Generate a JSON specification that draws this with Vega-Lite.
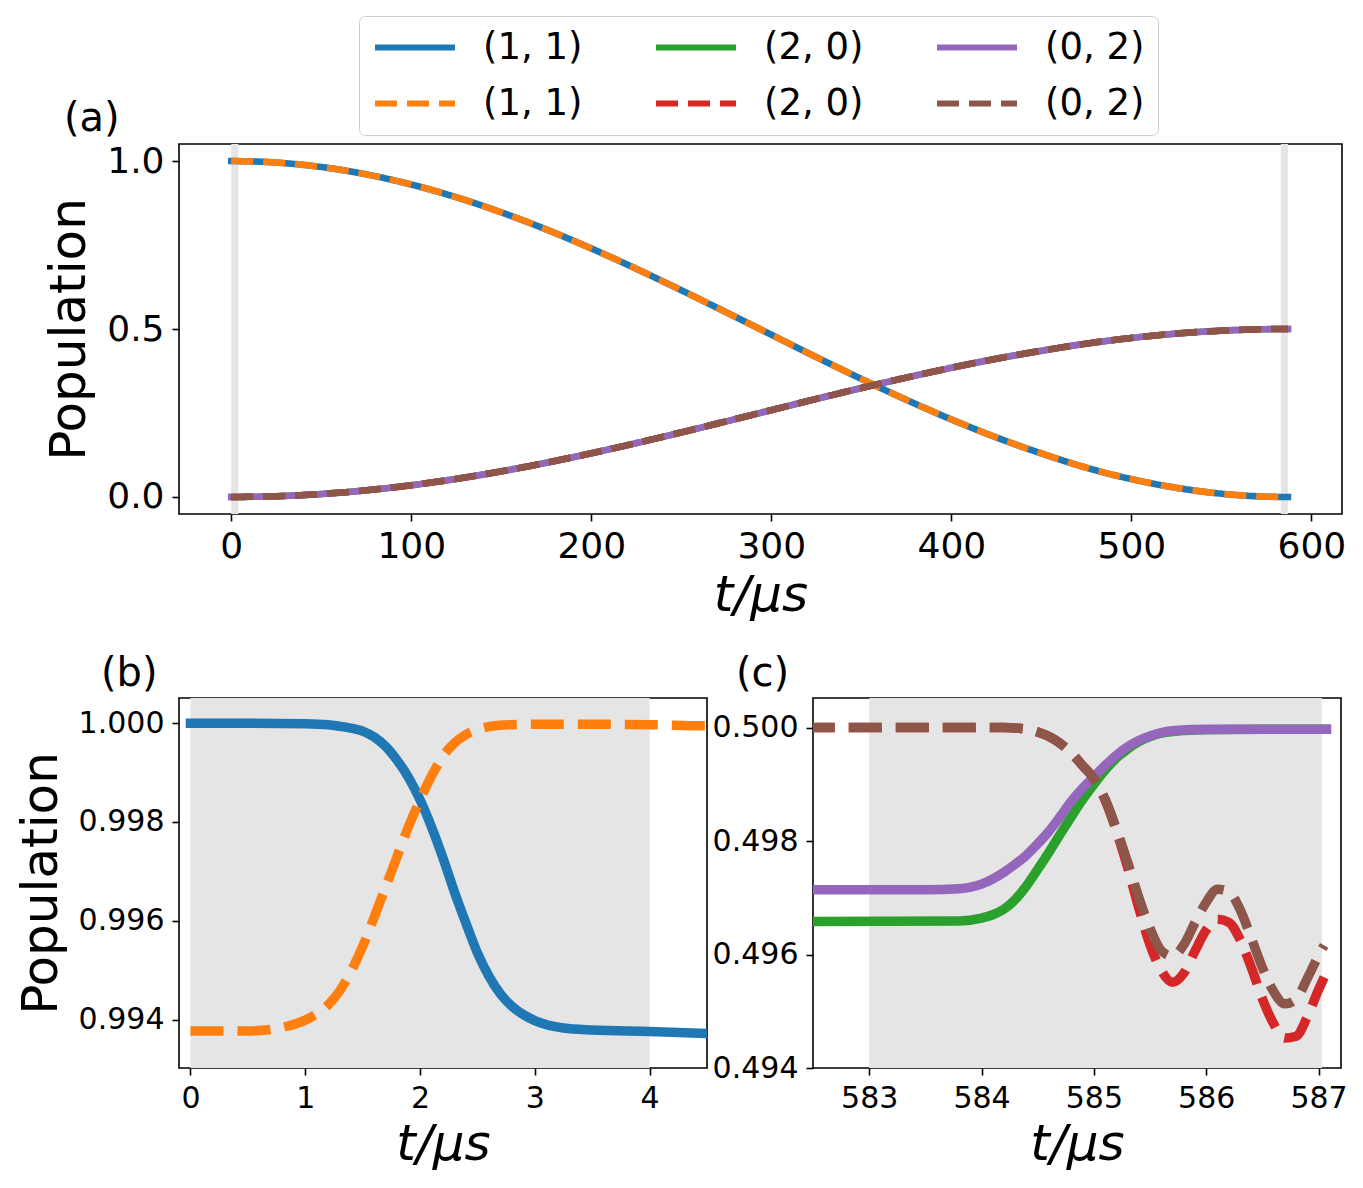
{
  "$schema": "https://vega.github.io/schema/vega-lite/v6.json",
  "background": "#ffffff",
  "padding": {"left": 15, "top": 15, "right": 10, "bottom": 10},
  "config": {
    "font": "DejaVu Sans",
    "view": {"stroke": "#000000", "strokeWidth": 1.6},
    "axis": {
      "domain": false, "grid": false,
      "tickColor": "#000000", "tickSize": 7, "tickWidth": 1.6,
      "labelColor": "#000000", "titleColor": "#000000",
      "labelFont": "DejaVu Sans", "titleFont": "DejaVu Sans",
      "titleFontWeight": "normal", "labelPadding": 8,
      "labelFlush": false, "labelOverlap": false
    },
    "title": {"font": "DejaVu Sans", "fontSize": 40, "fontWeight": "normal", "color": "#000000", "anchor": "start", "frame": "group", "offset": 4},
    "legend": {
      "orient": "none", "legendX": 180, "legendY": -128,
      "columns": 3, "direction": "horizontal",
      "symbolType": "stroke", "symbolSize": 6400, "symbolStrokeWidth": 6,
      "labelFont": "DejaVu Sans", "labelFontSize": 37, "labelColor": "#000000",
      "labelOffset": 25, "columnPadding": 70, "rowPadding": 18, "padding": 13, "clipHeight": 37,
      "strokeColor": "#cccccc", "fillColor": "#ffffff", "cornerRadius": 6, "labelLimit": 300
    }
  },
  "datasets": {
    "bands": [
      {"panel": "a", "t0": 0, "t1": 4},
      {"panel": "a", "t0": 583, "t1": 587},
      {"panel": "b", "t0": 0, "t1": 4},
      {"panel": "c", "t0": 583, "t1": 587.03}
    ],
    "full": [
      {"t":0,"s":"(1, 1)|solid","p":1.0},{"t":25,"s":"(1, 1)|solid","p":0.9955},{"t":50,"s":"(1, 1)|solid","p":0.9822},{"t":75,"s":"(1, 1)|solid","p":0.9603},{"t":100,"s":"(1, 1)|solid","p":0.9301},{"t":125,"s":"(1, 1)|solid","p":0.8922},{"t":150,"s":"(1, 1)|solid","p":0.8473},{"t":175,"s":"(1, 1)|solid","p":0.7962},{"t":200,"s":"(1, 1)|solid","p":0.7398},{"t":225,"s":"(1, 1)|solid","p":0.6792},{"t":250,"s":"(1, 1)|solid","p":0.6154},{"t":275,"s":"(1, 1)|solid","p":0.5496},{"t":300,"s":"(1, 1)|solid","p":0.4830},{"t":325,"s":"(1, 1)|solid","p":0.4163},{"t":350,"s":"(1, 1)|solid","p":0.3515},{"t":375,"s":"(1, 1)|solid","p":0.2892},{"t":400,"s":"(1, 1)|solid","p":0.2308},{"t":425,"s":"(1, 1)|solid","p":0.1773},{"t":450,"s":"(1, 1)|solid","p":0.1296},{"t":475,"s":"(1, 1)|solid","p":0.0872},{"t":500,"s":"(1, 1)|solid","p":0.0532},{"t":525,"s":"(1, 1)|solid","p":0.0273},{"t":550,"s":"(1, 1)|solid","p":0.0098},{"t":575,"s":"(1, 1)|solid","p":0.0010},{"t":587,"s":"(1, 1)|solid","p":0.0},
      {"t":0,"s":"(2, 0)|solid","p":0.0},{"t":25,"s":"(2, 0)|solid","p":0.0023},{"t":50,"s":"(2, 0)|solid","p":0.0089},{"t":75,"s":"(2, 0)|solid","p":0.0199},{"t":100,"s":"(2, 0)|solid","p":0.0350},{"t":125,"s":"(2, 0)|solid","p":0.0539},{"t":150,"s":"(2, 0)|solid","p":0.0764},{"t":175,"s":"(2, 0)|solid","p":0.1019},{"t":200,"s":"(2, 0)|solid","p":0.1301},{"t":225,"s":"(2, 0)|solid","p":0.1604},{"t":250,"s":"(2, 0)|solid","p":0.1923},{"t":275,"s":"(2, 0)|solid","p":0.2252},{"t":300,"s":"(2, 0)|solid","p":0.2585},{"t":325,"s":"(2, 0)|solid","p":0.2919},{"t":350,"s":"(2, 0)|solid","p":0.3243},{"t":375,"s":"(2, 0)|solid","p":0.3554},{"t":400,"s":"(2, 0)|solid","p":0.3846},{"t":425,"s":"(2, 0)|solid","p":0.4114},{"t":450,"s":"(2, 0)|solid","p":0.4352},{"t":475,"s":"(2, 0)|solid","p":0.4564},{"t":500,"s":"(2, 0)|solid","p":0.4734},{"t":525,"s":"(2, 0)|solid","p":0.4864},{"t":550,"s":"(2, 0)|solid","p":0.4951},{"t":575,"s":"(2, 0)|solid","p":0.4995},{"t":587,"s":"(2, 0)|solid","p":0.5},
      {"t":0,"s":"(0, 2)|solid","p":0.0},{"t":25,"s":"(0, 2)|solid","p":0.0023},{"t":50,"s":"(0, 2)|solid","p":0.0089},{"t":75,"s":"(0, 2)|solid","p":0.0199},{"t":100,"s":"(0, 2)|solid","p":0.0350},{"t":125,"s":"(0, 2)|solid","p":0.0539},{"t":150,"s":"(0, 2)|solid","p":0.0764},{"t":175,"s":"(0, 2)|solid","p":0.1019},{"t":200,"s":"(0, 2)|solid","p":0.1301},{"t":225,"s":"(0, 2)|solid","p":0.1604},{"t":250,"s":"(0, 2)|solid","p":0.1923},{"t":275,"s":"(0, 2)|solid","p":0.2252},{"t":300,"s":"(0, 2)|solid","p":0.2585},{"t":325,"s":"(0, 2)|solid","p":0.2919},{"t":350,"s":"(0, 2)|solid","p":0.3243},{"t":375,"s":"(0, 2)|solid","p":0.3554},{"t":400,"s":"(0, 2)|solid","p":0.3846},{"t":425,"s":"(0, 2)|solid","p":0.4114},{"t":450,"s":"(0, 2)|solid","p":0.4352},{"t":475,"s":"(0, 2)|solid","p":0.4564},{"t":500,"s":"(0, 2)|solid","p":0.4734},{"t":525,"s":"(0, 2)|solid","p":0.4864},{"t":550,"s":"(0, 2)|solid","p":0.4951},{"t":575,"s":"(0, 2)|solid","p":0.4995},{"t":587,"s":"(0, 2)|solid","p":0.5},
      {"t":0,"s":"(1, 1)|dashed","p":1.0},{"t":25,"s":"(1, 1)|dashed","p":0.9955},{"t":50,"s":"(1, 1)|dashed","p":0.9822},{"t":75,"s":"(1, 1)|dashed","p":0.9603},{"t":100,"s":"(1, 1)|dashed","p":0.9301},{"t":125,"s":"(1, 1)|dashed","p":0.8922},{"t":150,"s":"(1, 1)|dashed","p":0.8473},{"t":175,"s":"(1, 1)|dashed","p":0.7962},{"t":200,"s":"(1, 1)|dashed","p":0.7398},{"t":225,"s":"(1, 1)|dashed","p":0.6792},{"t":250,"s":"(1, 1)|dashed","p":0.6154},{"t":275,"s":"(1, 1)|dashed","p":0.5496},{"t":300,"s":"(1, 1)|dashed","p":0.4830},{"t":325,"s":"(1, 1)|dashed","p":0.4163},{"t":350,"s":"(1, 1)|dashed","p":0.3515},{"t":375,"s":"(1, 1)|dashed","p":0.2892},{"t":400,"s":"(1, 1)|dashed","p":0.2308},{"t":425,"s":"(1, 1)|dashed","p":0.1773},{"t":450,"s":"(1, 1)|dashed","p":0.1296},{"t":475,"s":"(1, 1)|dashed","p":0.0872},{"t":500,"s":"(1, 1)|dashed","p":0.0532},{"t":525,"s":"(1, 1)|dashed","p":0.0273},{"t":550,"s":"(1, 1)|dashed","p":0.0098},{"t":575,"s":"(1, 1)|dashed","p":0.0010},{"t":587,"s":"(1, 1)|dashed","p":0.0},
      {"t":0,"s":"(2, 0)|dashed","p":0.0},{"t":25,"s":"(2, 0)|dashed","p":0.0023},{"t":50,"s":"(2, 0)|dashed","p":0.0089},{"t":75,"s":"(2, 0)|dashed","p":0.0199},{"t":100,"s":"(2, 0)|dashed","p":0.0350},{"t":125,"s":"(2, 0)|dashed","p":0.0539},{"t":150,"s":"(2, 0)|dashed","p":0.0764},{"t":175,"s":"(2, 0)|dashed","p":0.1019},{"t":200,"s":"(2, 0)|dashed","p":0.1301},{"t":225,"s":"(2, 0)|dashed","p":0.1604},{"t":250,"s":"(2, 0)|dashed","p":0.1923},{"t":275,"s":"(2, 0)|dashed","p":0.2252},{"t":300,"s":"(2, 0)|dashed","p":0.2585},{"t":325,"s":"(2, 0)|dashed","p":0.2919},{"t":350,"s":"(2, 0)|dashed","p":0.3243},{"t":375,"s":"(2, 0)|dashed","p":0.3554},{"t":400,"s":"(2, 0)|dashed","p":0.3846},{"t":425,"s":"(2, 0)|dashed","p":0.4114},{"t":450,"s":"(2, 0)|dashed","p":0.4352},{"t":475,"s":"(2, 0)|dashed","p":0.4564},{"t":500,"s":"(2, 0)|dashed","p":0.4734},{"t":525,"s":"(2, 0)|dashed","p":0.4864},{"t":550,"s":"(2, 0)|dashed","p":0.4951},{"t":575,"s":"(2, 0)|dashed","p":0.4995},{"t":587,"s":"(2, 0)|dashed","p":0.5},
      {"t":0,"s":"(0, 2)|dashed","p":0.0},{"t":25,"s":"(0, 2)|dashed","p":0.0023},{"t":50,"s":"(0, 2)|dashed","p":0.0089},{"t":75,"s":"(0, 2)|dashed","p":0.0199},{"t":100,"s":"(0, 2)|dashed","p":0.0350},{"t":125,"s":"(0, 2)|dashed","p":0.0539},{"t":150,"s":"(0, 2)|dashed","p":0.0764},{"t":175,"s":"(0, 2)|dashed","p":0.1019},{"t":200,"s":"(0, 2)|dashed","p":0.1301},{"t":225,"s":"(0, 2)|dashed","p":0.1604},{"t":250,"s":"(0, 2)|dashed","p":0.1923},{"t":275,"s":"(0, 2)|dashed","p":0.2252},{"t":300,"s":"(0, 2)|dashed","p":0.2585},{"t":325,"s":"(0, 2)|dashed","p":0.2919},{"t":350,"s":"(0, 2)|dashed","p":0.3243},{"t":375,"s":"(0, 2)|dashed","p":0.3554},{"t":400,"s":"(0, 2)|dashed","p":0.3846},{"t":425,"s":"(0, 2)|dashed","p":0.4114},{"t":450,"s":"(0, 2)|dashed","p":0.4352},{"t":475,"s":"(0, 2)|dashed","p":0.4564},{"t":500,"s":"(0, 2)|dashed","p":0.4734},{"t":525,"s":"(0, 2)|dashed","p":0.4864},{"t":550,"s":"(0, 2)|dashed","p":0.4951},{"t":575,"s":"(0, 2)|dashed","p":0.4995},{"t":587,"s":"(0, 2)|dashed","p":0.5}
    ],
    "start": [
      {"t":0,"s":"(1, 1)|solid","p":1.0},{"t":0.5,"s":"(1, 1)|solid","p":1.0},{"t":1.0,"s":"(1, 1)|solid","p":0.99999},{"t":1.2,"s":"(1, 1)|solid","p":0.99997},{"t":1.35,"s":"(1, 1)|solid","p":0.99992},{"t":1.5,"s":"(1, 1)|solid","p":0.99984},{"t":1.6,"s":"(1, 1)|solid","p":0.99972},{"t":1.7,"s":"(1, 1)|solid","p":0.99953},{"t":1.8,"s":"(1, 1)|solid","p":0.99925},{"t":1.9,"s":"(1, 1)|solid","p":0.99890},{"t":2.0,"s":"(1, 1)|solid","p":0.99845},{"t":2.1,"s":"(1, 1)|solid","p":0.99790},{"t":2.2,"s":"(1, 1)|solid","p":0.99727},{"t":2.3,"s":"(1, 1)|solid","p":0.99658},{"t":2.4,"s":"(1, 1)|solid","p":0.99595},{"t":2.5,"s":"(1, 1)|solid","p":0.99535},{"t":2.6,"s":"(1, 1)|solid","p":0.99488},{"t":2.7,"s":"(1, 1)|solid","p":0.99452},{"t":2.8,"s":"(1, 1)|solid","p":0.99427},{"t":2.9,"s":"(1, 1)|solid","p":0.99410},{"t":3.0,"s":"(1, 1)|solid","p":0.99398},{"t":3.25,"s":"(1, 1)|solid","p":0.99383},{"t":3.5,"s":"(1, 1)|solid","p":0.99379},{"t":4.0,"s":"(1, 1)|solid","p":0.99376},{"t":4.5,"s":"(1, 1)|solid","p":0.99372},{"t":4.6,"s":"(1, 1)|solid","p":0.99371},
      {"t":0,"s":"(1, 1)|dashed","p":0.99377},{"t":0.5,"s":"(1, 1)|dashed","p":0.99377},{"t":0.7,"s":"(1, 1)|dashed","p":0.99380},{"t":0.85,"s":"(1, 1)|dashed","p":0.99387},{"t":1.0,"s":"(1, 1)|dashed","p":0.99399},{"t":1.1,"s":"(1, 1)|dashed","p":0.99412},{"t":1.2,"s":"(1, 1)|dashed","p":0.99430},{"t":1.3,"s":"(1, 1)|dashed","p":0.99458},{"t":1.4,"s":"(1, 1)|dashed","p":0.99498},{"t":1.5,"s":"(1, 1)|dashed","p":0.99548},{"t":1.6,"s":"(1, 1)|dashed","p":0.99607},{"t":1.7,"s":"(1, 1)|dashed","p":0.99668},{"t":1.8,"s":"(1, 1)|dashed","p":0.99730},{"t":1.9,"s":"(1, 1)|dashed","p":0.99791},{"t":2.0,"s":"(1, 1)|dashed","p":0.99845},{"t":2.1,"s":"(1, 1)|dashed","p":0.99893},{"t":2.2,"s":"(1, 1)|dashed","p":0.99933},{"t":2.3,"s":"(1, 1)|dashed","p":0.99960},{"t":2.4,"s":"(1, 1)|dashed","p":0.99977},{"t":2.5,"s":"(1, 1)|dashed","p":0.99987},{"t":2.6,"s":"(1, 1)|dashed","p":0.99993},{"t":2.8,"s":"(1, 1)|dashed","p":0.99997},{"t":3.0,"s":"(1, 1)|dashed","p":0.99998},{"t":3.5,"s":"(1, 1)|dashed","p":0.99998},{"t":4.0,"s":"(1, 1)|dashed","p":0.99997},{"t":4.5,"s":"(1, 1)|dashed","p":0.99995},{"t":4.6,"s":"(1, 1)|dashed","p":0.99995}
    ],
    "end": [
      {"t":582.4,"s":"(2, 0)|solid","p":0.49658},{"t":583.8,"s":"(2, 0)|solid","p":0.49659},{"t":584.0,"s":"(2, 0)|solid","p":0.49664},{"t":584.1,"s":"(2, 0)|solid","p":0.49670},{"t":584.2,"s":"(2, 0)|solid","p":0.49680},{"t":584.3,"s":"(2, 0)|solid","p":0.49697},{"t":584.4,"s":"(2, 0)|solid","p":0.49721},{"t":584.5,"s":"(2, 0)|solid","p":0.49750},{"t":584.6,"s":"(2, 0)|solid","p":0.49780},{"t":584.7,"s":"(2, 0)|solid","p":0.49812},{"t":584.8,"s":"(2, 0)|solid","p":0.49843},{"t":584.9,"s":"(2, 0)|solid","p":0.49873},{"t":585.0,"s":"(2, 0)|solid","p":0.49900},{"t":585.1,"s":"(2, 0)|solid","p":0.49925},{"t":585.2,"s":"(2, 0)|solid","p":0.49946},{"t":585.3,"s":"(2, 0)|solid","p":0.49962},{"t":585.4,"s":"(2, 0)|solid","p":0.49975},{"t":585.5,"s":"(2, 0)|solid","p":0.49984},{"t":585.6,"s":"(2, 0)|solid","p":0.49990},{"t":585.75,"s":"(2, 0)|solid","p":0.49994},{"t":586.0,"s":"(2, 0)|solid","p":0.49996},{"t":586.5,"s":"(2, 0)|solid","p":0.49997},{"t":587.07,"s":"(2, 0)|solid","p":0.49997},
      {"t":582.4,"s":"(0, 2)|solid","p":0.49714},{"t":583.5,"s":"(0, 2)|solid","p":0.49714},{"t":583.8,"s":"(0, 2)|solid","p":0.49716},{"t":584.0,"s":"(0, 2)|solid","p":0.49724},{"t":584.1,"s":"(0, 2)|solid","p":0.49733},{"t":584.2,"s":"(0, 2)|solid","p":0.49745},{"t":584.3,"s":"(0, 2)|solid","p":0.49759},{"t":584.4,"s":"(0, 2)|solid","p":0.49775},{"t":584.5,"s":"(0, 2)|solid","p":0.49795},{"t":584.6,"s":"(0, 2)|solid","p":0.49817},{"t":584.7,"s":"(0, 2)|solid","p":0.49843},{"t":584.8,"s":"(0, 2)|solid","p":0.49870},{"t":584.9,"s":"(0, 2)|solid","p":0.49893},{"t":585.0,"s":"(0, 2)|solid","p":0.49913},{"t":585.1,"s":"(0, 2)|solid","p":0.49933},{"t":585.2,"s":"(0, 2)|solid","p":0.49951},{"t":585.3,"s":"(0, 2)|solid","p":0.49966},{"t":585.4,"s":"(0, 2)|solid","p":0.49977},{"t":585.5,"s":"(0, 2)|solid","p":0.49985},{"t":585.6,"s":"(0, 2)|solid","p":0.49991},{"t":585.75,"s":"(0, 2)|solid","p":0.49995},{"t":586.0,"s":"(0, 2)|solid","p":0.49997},{"t":586.5,"s":"(0, 2)|solid","p":0.49997},{"t":587.07,"s":"(0, 2)|solid","p":0.49997},
      {"t":582.4,"s":"(2, 0)|dashed","p":0.5},{"t":584.2,"s":"(2, 0)|dashed","p":0.5},{"t":584.4,"s":"(2, 0)|dashed","p":0.49997},{"t":584.5,"s":"(2, 0)|dashed","p":0.49992},{"t":584.6,"s":"(2, 0)|dashed","p":0.49984},{"t":584.7,"s":"(2, 0)|dashed","p":0.49972},{"t":584.8,"s":"(2, 0)|dashed","p":0.49955},{"t":584.9,"s":"(2, 0)|dashed","p":0.49933},{"t":585.0,"s":"(2, 0)|dashed","p":0.49910},{"t":585.1,"s":"(2, 0)|dashed","p":0.49872},{"t":585.2,"s":"(2, 0)|dashed","p":0.49818},{"t":585.3,"s":"(2, 0)|dashed","p":0.49754},{"t":585.4,"s":"(2, 0)|dashed","p":0.49682},{"t":585.5,"s":"(2, 0)|dashed","p":0.49617},{"t":585.6,"s":"(2, 0)|dashed","p":0.49572},{"t":585.7,"s":"(2, 0)|dashed","p":0.49551},{"t":585.8,"s":"(2, 0)|dashed","p":0.49567},{"t":585.9,"s":"(2, 0)|dashed","p":0.49606},{"t":586.0,"s":"(2, 0)|dashed","p":0.49643},{"t":586.1,"s":"(2, 0)|dashed","p":0.49662},{"t":586.2,"s":"(2, 0)|dashed","p":0.49657},{"t":586.3,"s":"(2, 0)|dashed","p":0.49627},{"t":586.4,"s":"(2, 0)|dashed","p":0.49578},{"t":586.5,"s":"(2, 0)|dashed","p":0.49522},{"t":586.6,"s":"(2, 0)|dashed","p":0.49478},{"t":586.7,"s":"(2, 0)|dashed","p":0.49453},{"t":586.8,"s":"(2, 0)|dashed","p":0.49456},{"t":586.9,"s":"(2, 0)|dashed","p":0.49490},{"t":587.0,"s":"(2, 0)|dashed","p":0.49538},{"t":587.05,"s":"(2, 0)|dashed","p":0.49560},
      {"t":582.4,"s":"(0, 2)|dashed","p":0.5},{"t":584.2,"s":"(0, 2)|dashed","p":0.5},{"t":584.4,"s":"(0, 2)|dashed","p":0.49997},{"t":584.5,"s":"(0, 2)|dashed","p":0.49992},{"t":584.6,"s":"(0, 2)|dashed","p":0.49984},{"t":584.7,"s":"(0, 2)|dashed","p":0.49972},{"t":584.8,"s":"(0, 2)|dashed","p":0.49955},{"t":584.9,"s":"(0, 2)|dashed","p":0.49933},{"t":585.0,"s":"(0, 2)|dashed","p":0.49910},{"t":585.1,"s":"(0, 2)|dashed","p":0.49874},{"t":585.2,"s":"(0, 2)|dashed","p":0.49822},{"t":585.3,"s":"(0, 2)|dashed","p":0.49763},{"t":585.4,"s":"(0, 2)|dashed","p":0.49701},{"t":585.5,"s":"(0, 2)|dashed","p":0.49646},{"t":585.6,"s":"(0, 2)|dashed","p":0.49607},{"t":585.7,"s":"(0, 2)|dashed","p":0.49597},{"t":585.8,"s":"(0, 2)|dashed","p":0.49617},{"t":585.9,"s":"(0, 2)|dashed","p":0.49656},{"t":586.0,"s":"(0, 2)|dashed","p":0.49692},{"t":586.1,"s":"(0, 2)|dashed","p":0.49715},{"t":586.2,"s":"(0, 2)|dashed","p":0.49711},{"t":586.3,"s":"(0, 2)|dashed","p":0.49680},{"t":586.4,"s":"(0, 2)|dashed","p":0.49630},{"t":586.5,"s":"(0, 2)|dashed","p":0.49577},{"t":586.6,"s":"(0, 2)|dashed","p":0.49535},{"t":586.7,"s":"(0, 2)|dashed","p":0.49513},{"t":586.8,"s":"(0, 2)|dashed","p":0.49521},{"t":586.9,"s":"(0, 2)|dashed","p":0.49558},{"t":587.0,"s":"(0, 2)|dashed","p":0.49598},{"t":587.05,"s":"(0, 2)|dashed","p":0.49616}
    ]
  },
  "bounds": "flush",
  "spacing": 184,
  "vconcat": [
    {
      "width": 1163,
      "height": 370,
      "title": {"text": "(a)", "dx": -115},
      "layer": [
        {
          "data": {"name": "bands"},
          "transform": [{"filter": "datum.panel == 'a'"}],
          "mark": {"type": "rect", "color": "#e5e5e5"},
          "encoding": {
            "x": {"field": "t0", "type": "quantitative", "scale": {"domain": [-29, 617], "nice": false, "zero": false},
                  "axis": {"title": "t/μs", "values": [0, 100, 200, 300, 400, 500, 600], "format": "d", "labelFontSize": 36, "titleFontSize": 50, "titleFontStyle": "italic", "titlePadding": 6}},
            "x2": {"field": "t1"}
          }
        },
        {
          "data": {"name": "full"},
          "transform": [{"filter": "indexof(datum.s, 'solid') >= 0"}],
          "mark": {"type": "line", "strokeWidth": 6.5, "strokeCap": "square", "strokeJoin": "round", "interpolate": "monotone"},
          "encoding": {
            "x": {"field": "t", "type": "quantitative", "scale": {"domain": [-29, 617], "nice": false, "zero": false},
                  "axis": {"title": "t/μs", "values": [0, 100, 200, 300, 400, 500, 600], "format": "d", "labelFontSize": 36, "titleFontSize": 50, "titleFontStyle": "italic", "titlePadding": 6}},
            "y": {"field": "p", "type": "quantitative", "scale": {"domain": [-0.0506, 1.0506], "nice": false, "zero": false},
                  "axis": {"title": "Population", "values": [0, 0.5, 1], "format": ".1f", "labelFontSize": 36, "titleFontSize": 50, "titlePadding": 12}},
            "color": {"field": "s", "type": "nominal",
                      "scale": {"domain": ["(1, 1)|solid", "(2, 0)|solid", "(0, 2)|solid", "(1, 1)|dashed", "(2, 0)|dashed", "(0, 2)|dashed"],
                                "range": ["#1f77b4", "#2ca02c", "#9467bd", "#ff7f0e", "#d62728", "#8c564b"]},
                      "legend": {"title": null, "labelExpr": "split(datum.label, '|')[0]"}},
            "strokeDash": {"field": "s", "type": "nominal",
                      "scale": {"domain": ["(1, 1)|solid", "(2, 0)|solid", "(0, 2)|solid", "(1, 1)|dashed", "(2, 0)|dashed", "(0, 2)|dashed"],
                                "range": [[1, 0], [1, 0], [1, 0], [22, 10], [22, 10], [22, 10]]},
                      "legend": {"title": null, "labelExpr": "split(datum.label, '|')[0]"}}
          }
        },
        {
          "data": {"name": "full"},
          "transform": [{"filter": "indexof(datum.s, 'dashed') >= 0"}],
          "mark": {"type": "line", "strokeWidth": 6.5, "strokeCap": "butt", "strokeJoin": "round", "interpolate": "monotone"},
          "encoding": {
            "x": {"field": "t", "type": "quantitative", "scale": {"domain": [-29, 617], "nice": false, "zero": false},
                  "axis": {"title": "t/μs", "values": [0, 100, 200, 300, 400, 500, 600], "format": "d", "labelFontSize": 36, "titleFontSize": 50, "titleFontStyle": "italic", "titlePadding": 6}},
            "y": {"field": "p", "type": "quantitative", "scale": {"domain": [-0.0506, 1.0506], "nice": false, "zero": false},
                  "axis": {"title": "Population", "values": [0, 0.5, 1], "format": ".1f", "labelFontSize": 36, "titleFontSize": 50, "titlePadding": 12}},
            "color": {"field": "s", "type": "nominal",
                      "scale": {"domain": ["(1, 1)|solid", "(2, 0)|solid", "(0, 2)|solid", "(1, 1)|dashed", "(2, 0)|dashed", "(0, 2)|dashed"],
                                "range": ["#1f77b4", "#2ca02c", "#9467bd", "#ff7f0e", "#d62728", "#8c564b"]},
                      "legend": {"title": null, "labelExpr": "split(datum.label, '|')[0]"}},
            "strokeDash": {"field": "s", "type": "nominal",
                      "scale": {"domain": ["(1, 1)|solid", "(2, 0)|solid", "(0, 2)|solid", "(1, 1)|dashed", "(2, 0)|dashed", "(0, 2)|dashed"],
                                "range": [[1, 0], [1, 0], [1, 0], [22, 10], [22, 10], [22, 10]]},
                      "legend": {"title": null, "labelExpr": "split(datum.label, '|')[0]"}}
          }
        }
      ]
    },
    {
      "bounds": "flush",
      "spacing": 106,
      "hconcat": [
        {
          "width": 528,
          "height": 370,
          "title": {"text": "(b)", "dx": -78},
          "layer": [
            {
              "data": {"name": "bands"},
              "transform": [{"filter": "datum.panel == 'b'"}],
              "mark": {"type": "rect", "color": "#e5e5e5"},
              "encoding": {
                "x": {"field": "t0", "type": "quantitative", "scale": {"domain": [-0.1, 4.5], "nice": false, "zero": false},
                      "axis": {"title": "t/μs", "values": [0, 1, 2, 3, 4], "format": "d", "labelFontSize": 30, "titleFontSize": 50, "titleFontStyle": "italic", "titlePadding": 6}},
                "x2": {"field": "t1"}
              }
            },
            {
              "data": {"name": "start"},
              "transform": [{"filter": "indexof(datum.s, 'solid') >= 0"}],
              "mark": {"type": "line", "strokeWidth": 9.5, "strokeCap": "square", "strokeJoin": "round", "interpolate": "monotone", "clip": true},
              "encoding": {
                "x": {"field": "t", "type": "quantitative", "scale": {"domain": [-0.1, 4.5], "nice": false, "zero": false},
                      "axis": {"title": "t/μs", "values": [0, 1, 2, 3, 4], "format": "d", "labelFontSize": 30, "titleFontSize": 50, "titleFontStyle": "italic", "titlePadding": 6}},
                "y": {"field": "p", "type": "quantitative", "scale": {"domain": [0.99302, 1.00051], "nice": false, "zero": false},
                      "axis": {"title": "Population", "values": [0.994, 0.996, 0.998, 1.0], "format": ".3f", "labelFontSize": 30, "titleFontSize": 50, "titlePadding": 12}},
                "color": {"field": "s", "type": "nominal", "legend": null}
              }
            },
            {
              "data": {"name": "start"},
              "transform": [{"filter": "indexof(datum.s, 'dashed') >= 0"}],
              "mark": {"type": "line", "strokeWidth": 9.5, "strokeCap": "butt", "strokeJoin": "round", "strokeDash": [33, 14], "interpolate": "monotone", "clip": true},
              "encoding": {
                "x": {"field": "t", "type": "quantitative", "scale": {"domain": [-0.1, 4.5], "nice": false, "zero": false},
                      "axis": {"title": "t/μs", "values": [0, 1, 2, 3, 4], "format": "d", "labelFontSize": 30, "titleFontSize": 50, "titleFontStyle": "italic", "titlePadding": 6}},
                "y": {"field": "p", "type": "quantitative", "scale": {"domain": [0.99302, 1.00051], "nice": false, "zero": false},
                      "axis": {"title": "Population", "values": [0.994, 0.996, 0.998, 1.0], "format": ".3f", "labelFontSize": 30, "titleFontSize": 50, "titlePadding": 12}},
                "color": {"field": "s", "type": "nominal", "legend": null}
              }
            }
          ]
        },
        {
          "width": 528,
          "height": 370,
          "title": {"text": "(c)", "dx": -77},
          "layer": [
            {
              "data": {"name": "bands"},
              "transform": [{"filter": "datum.panel == 'c'"}],
              "mark": {"type": "rect", "color": "#e5e5e5"},
              "encoding": {
                "x": {"field": "t0", "type": "quantitative", "scale": {"domain": [582.5, 587.2], "nice": false, "zero": false},
                      "axis": {"title": "t/μs", "values": [583, 584, 585, 586, 587], "format": "d", "labelFontSize": 30, "titleFontSize": 50, "titleFontStyle": "italic", "titlePadding": 6}},
                "x2": {"field": "t1"}
              }
            },
            {
              "data": {"name": "end"},
              "transform": [{"filter": "indexof(datum.s, 'solid') >= 0"}],
              "mark": {"type": "line", "strokeWidth": 9.5, "strokeCap": "square", "strokeJoin": "round", "interpolate": "monotone", "clip": true},
              "encoding": {
                "x": {"field": "t", "type": "quantitative", "scale": {"domain": [582.5, 587.2], "nice": false, "zero": false},
                      "axis": {"title": "t/μs", "values": [583, 584, 585, 586, 587], "format": "d", "labelFontSize": 30, "titleFontSize": 50, "titleFontStyle": "italic", "titlePadding": 6}},
                "y": {"field": "p", "type": "quantitative", "scale": {"domain": [0.494, 0.50052], "nice": false, "zero": false},
                      "axis": {"title": null, "values": [0.494, 0.496, 0.498, 0.5], "format": ".3f", "labelFontSize": 30}},
                "color": {"field": "s", "type": "nominal", "legend": null}
              }
            },
            {
              "data": {"name": "end"},
              "transform": [{"filter": "indexof(datum.s, 'dashed') >= 0"}],
              "mark": {"type": "line", "strokeWidth": 9.5, "strokeCap": "butt", "strokeJoin": "round", "strokeDash": [33, 14], "interpolate": "monotone", "clip": true},
              "encoding": {
                "x": {"field": "t", "type": "quantitative", "scale": {"domain": [582.5, 587.2], "nice": false, "zero": false},
                      "axis": {"title": "t/μs", "values": [583, 584, 585, 586, 587], "format": "d", "labelFontSize": 30, "titleFontSize": 50, "titleFontStyle": "italic", "titlePadding": 6}},
                "y": {"field": "p", "type": "quantitative", "scale": {"domain": [0.494, 0.50052], "nice": false, "zero": false},
                      "axis": {"title": null, "values": [0.494, 0.496, 0.498, 0.5], "format": ".3f", "labelFontSize": 30}},
                "color": {"field": "s", "type": "nominal", "legend": null}
              }
            }
          ]
        }
      ]
    }
  ]
}
